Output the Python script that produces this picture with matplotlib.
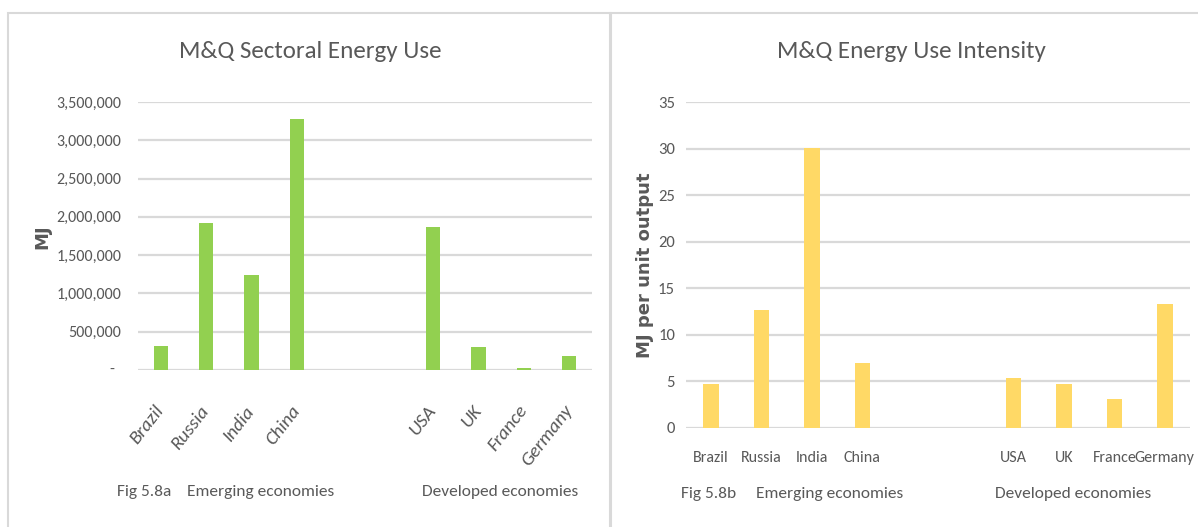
import matplotlib
matplotlib.use("Agg")
import matplotlib.pyplot as plt
from matplotlib.patches import Rectangle
from matplotlib.ticker import FuncFormatter
import numpy as np

plt.rcParams['font.family'] = ['Carlito', 'DejaVu Sans']

emerging = ["Brazil", "Russia", "India", "China"]
developed = ["USA", "UK", "France", "Germany"]

energy_use_emerging = [307000, 1919000, 1247000, 3281000]
energy_use_developed = [1866000, 294000, 31000, 189000]

intensity_emerging = [4.7, 12.6, 30.05, 6.95]
intensity_developed = [5.3, 4.7, 3.07, 13.3]

energy_ticks = [0, 500000, 1000000, 1500000, 2000000, 2500000, 3000000, 3500000]
intensity_ticks = [0, 5, 10, 15, 20, 25, 30, 35]

TXT = "#595959"
GRID = "#d9d9d9"
GREEN = "#92d050"
YELLOW = "#ffd966"
W, H = 1198, 527

fig = plt.figure(figsize=(W / 100, H / 100), dpi=100)
fig.patch.set_facecolor("white")


def px_axes(x0, y0, x1, y1):
    return fig.add_axes([x0 / W, 1 - y1 / H, (x1 - x0) / W, (y1 - y0) / H])


# panel frames
for (x0, x1) in [(8, 610), (611, 1203)]:
    fig.add_artist(Rectangle((x0 / W, -0.05), (x1 - x0) / W, 1.05 - 13 / H,
                             transform=fig.transFigure, fill=False,
                             edgecolor=GRID, linewidth=1.5))

gap = 2
labels = emerging + [""] * gap + developed
pos_em = np.arange(len(emerging))
pos_dev = np.arange(len(developed)) + len(emerging) + gap
bar_w = 0.31


def style_axes(ax, ticks):
    for s in ax.spines.values():
        s.set_visible(False)
    ax.set_yticks(ticks)
    ax.set_ylim(ticks[0], ticks[-1])
    ax.yaxis.grid(True, color=GRID, linewidth=1.6)
    ax.set_axisbelow(True)
    ax.tick_params(axis='both', length=0, colors=TXT)
    ax.set_xlim(-0.5, len(labels) - 0.5)
    ax.set_xticks(np.arange(len(labels)))


# ---- Fig 5.8a: sectoral energy use ----
ax1 = px_axes(138, 102, 592, 370)
ax1.bar(pos_em, energy_use_emerging, width=bar_w, color=GREEN)
ax1.bar(pos_dev, energy_use_developed, width=bar_w, color=GREEN)
style_axes(ax1, energy_ticks)
# accounting-style zero: a dash set in from the right edge of the labels
ax1.yaxis.set_major_formatter(FuncFormatter(lambda v, p: "" if v == 0 else f"{int(v):,}"))
ax1.annotate("-", xy=(0, energy_ticks[0]), xycoords=('axes fraction', 'data'),
             xytext=(-26, 0), textcoords='offset pixels', ha='center', va='center',
             fontsize=11.5, color=TXT)
for t in ax1.get_yticklabels():
    t.set_fontsize(11.5)
ax1.tick_params(axis='y', pad=12)
ax1.set_xticklabels(labels, rotation=52, ha='right', va='center',
                    rotation_mode='anchor', fontsize=14, style='italic', color=TXT)
ax1.tick_params(axis='x', pad=27)
fig.text(310 / W, 1 - 52 / H, "M&Q Sectoral Energy Use", ha='center', va='center',
         fontsize=18, color=TXT)
fig.text(42 / W, 1 - 237 / H, "MJ", rotation=90, ha='center', va='center',
         fontsize=13, fontweight='bold', color=TXT, family='DejaVu Sans')
fig.text(144 / W, 1 - 492 / H, "Fig 5.8a", ha='center', va='center', fontsize=12.5, color=TXT)
fig.text(261 / W, 1 - 492 / H, "Emerging economies", ha='center', va='center', fontsize=12.5, color=TXT)
fig.text(500 / W, 1 - 492 / H, "Developed economies", ha='center', va='center', fontsize=12.5, color=TXT)

# ---- Fig 5.8b: energy use intensity ----
ax2 = px_axes(686, 102, 1190, 427.6)
ax2.bar(pos_em, intensity_emerging, width=bar_w, color=YELLOW)
ax2.bar(pos_dev, intensity_developed, width=bar_w, color=YELLOW)
style_axes(ax2, intensity_ticks)
for t in ax2.get_yticklabels():
    t.set_fontsize(12)
ax2.tick_params(axis='y', pad=8)
ax2.set_xticklabels(labels, fontsize=11.5, color=TXT)
ax2.tick_params(axis='x', pad=17)
fig.text(911 / W, 1 - 52 / H, "M&Q Energy Use Intensity", ha='center', va='center',
         fontsize=18, color=TXT)
fig.text(645 / W, 1 - 265 / H, "MJ per unit output", rotation=90, ha='center', va='center',
         fontsize=13, fontweight='bold', color=TXT, family='DejaVu Sans')
fig.text(709 / W, 1 - 494 / H, "Fig 5.8b", ha='center', va='center', fontsize=12.5, color=TXT)
fig.text(830 / W, 1 - 494 / H, "Emerging economies", ha='center', va='center', fontsize=12.5, color=TXT)
fig.text(1073 / W, 1 - 494 / H, "Developed economies", ha='center', va='center', fontsize=12.5, color=TXT)

fig.savefig("out.png", dpi=100)
